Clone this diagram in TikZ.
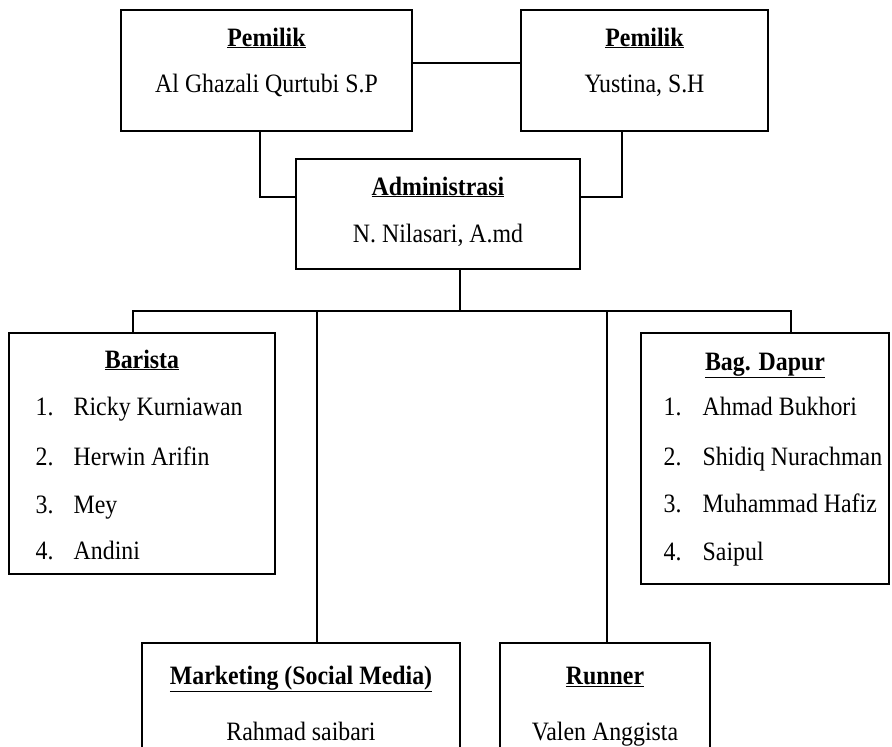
\documentclass[tikz,border=0pt]{standalone}
\usepackage{fontspec}
\setmainfont[FakeStretch=0.9]{Liberation Serif}

\tikzset{
  orgbox/.style={draw, line width=1.4pt, inner sep=0pt, outer sep=0pt},
  headtext/.style={anchor=base, inner sep=0pt, font=\fontsize{26.5}{30}\selectfont\bfseries},
  nametext/.style={anchor=base, inner sep=0pt, font=\fontsize{26.5}{30}\selectfont},
  listtext/.style={nametext, anchor=base west}
}

\begin{document}
\begin{tikzpicture}[x=1pt, y=-1pt, line width=1.4pt]
\useasboundingbox (0,0) rectangle (892,747);
\clip (0,0) rectangle (892,747);

\node[orgbox, minimum width=291pt, minimum height=121pt] (owner1) at (266.5,70.5) {};
\node[orgbox, minimum width=247pt, minimum height=121pt] (owner2) at (644.5,70.5) {};
\node[orgbox, minimum width=284pt, minimum height=110pt] (admin) at (438,214) {};
\node[orgbox, minimum width=266pt, minimum height=241pt] (barista) at (142,453.5) {};
\node[orgbox, minimum width=248pt, minimum height=251pt] (dapur) at (765,458.5) {};
\node[orgbox, minimum width=318pt, minimum height=200pt] (marketing) at (301,743) {};
\node[orgbox, minimum width=210pt, minimum height=200pt] (runner) at (605,743) {};

\node[headtext] (owner1head) at (266.5,46) {\underline{Pemilik}};
\node[nametext] (owner1name) at (266.5,92) {Al Ghazali Qurtubi S.P};
\node[headtext] (owner2head) at (644.5,46) {\underline{Pemilik}};
\node[nametext] (owner2name) at (644.5,92) {Yustina, S.H};
\node[headtext] (adminhead) at (438,195) {\underline{Administrasi}};
\node[nametext] (adminname) at (438,242) {N. Nilasari, A.md};
\node[headtext] (baristahead) at (142,368) {\underline{Barista}};
\node[headtext] (dapurhead) at (765,370) {\underline{Bag. Dapur}};
\node[headtext] (marketinghead) at (301,684) {\underline{Marketing (Social Media)}};
\node[nametext] (marketingname) at (301,740) {Rahmad saibari};
\node[headtext] (runnerhead) at (605,684) {\underline{Runner}};
\node[nametext] (runnername) at (605,740) {Valen Anggista};

\foreach \i/\who/\y in {1/Ricky Kurniawan/415, 2/Herwin Arifin/465, 3/Mey/513, 4/Andini/559} {
  \node[listtext] (baristanum\i) at (35,\y) {\i.};
  \node[listtext] (barista\i) at (73,\y) {\who};
}
\foreach \i/\who/\y in {1/Ahmad Bukhori/415, 2/Shidiq Nurachman/465, 3/Muhammad Hafiz/512, 4/Saipul/560} {
  \node[listtext] (dapurnum\i) at (663,\y) {\i.};
  \node[listtext] (dapur\i) at (702,\y) {\who};
}

\coordinate (link) at (466,63);
\coordinate (leftknee) at (260,197);
\coordinate (rightknee) at (622,197);
\coordinate (busmid) at (460,311);
\coordinate (busL) at (133,311);
\coordinate (busR) at (791,311);
\coordinate (dropM) at (317,311);
\coordinate (dropR) at (607,311);

\draw (link -| owner1.east) -- (link -| owner2.west);
\draw (leftknee |- owner1.south) |- (admin.west |- leftknee);
\draw (rightknee |- owner2.south) |- (admin.east |- rightknee);
\draw (busmid |- admin.south) -- (busmid);
\draw (busL |- barista.north) -- (busL) -- (busR) -- (busR |- dapur.north);
\foreach \from/\to in {dropM/marketing, dropR/runner}
  \draw (\from) -- (\from |- \to.north);

\end{tikzpicture}
\end{document}
